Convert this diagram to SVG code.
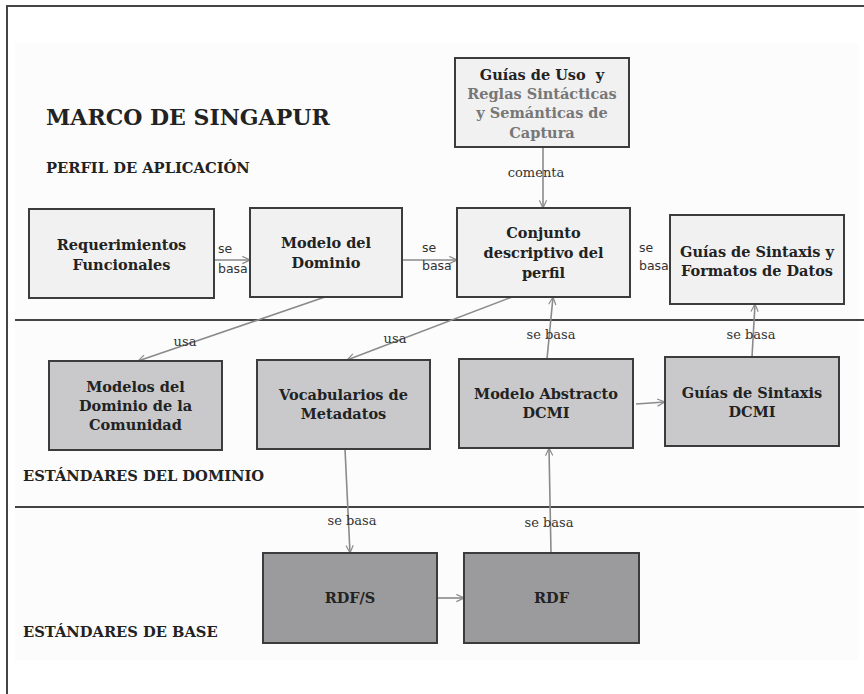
<svg xmlns="http://www.w3.org/2000/svg" width="864" height="694" viewBox="0 0 864 694">
<defs>
<style>
.n1{fill:#f1f1f1;stroke:#3c3c3c;stroke-width:2}
.n2{fill:#c9c9cb;stroke:#3c3c3c;stroke-width:2}
.n3{fill:#9b9b9d;stroke:#3c3c3c;stroke-width:2}
.t{font-family:"DejaVu Serif","Liberation Serif",serif;font-weight:bold;font-size:14.5px;fill:#222;text-anchor:middle}
.g{fill:#777}
.h{font-family:"DejaVu Serif","Liberation Serif",serif;font-weight:bold;fill:#222}
.lb{font-family:"DejaVu Serif","Liberation Serif",serif;font-size:13px;fill:#333;text-anchor:middle}
.ls{font-family:"DejaVu Sans","Liberation Sans",sans-serif;font-size:12.5px;fill:#333}
.c{stroke:#8a8a8a;stroke-width:1.6;fill:none;marker-end:url(#ah)}
.sep{stroke:#444;stroke-width:2.2}
</style>
<marker id="ah" viewBox="0 0 10 10" refX="9.5" refY="5" markerWidth="9" markerHeight="9" markerUnits="userSpaceOnUse" orient="auto">
<path d="M1,1 L9.5,5 L1,9" fill="none" stroke="#8a8a8a" stroke-width="1.3"/>
</marker>
</defs>
<rect x="0" y="0" width="864" height="694" fill="#ffffff"/>
<rect x="15" y="43" width="843" height="617" fill="#fcfcfc"/>
<path d="M7,694 L7,6 L864,6" fill="none" stroke="#444" stroke-width="2"/>
<line class="sep" x1="15" y1="320" x2="864" y2="320"/>
<line class="sep" x1="15" y1="507" x2="864" y2="507"/>

<g id="titles">
<text class="h" x="46" y="125" font-size="22">MARCO DE SINGAPUR</text>
<text class="h" x="46" y="173" font-size="14.7">PERFIL DE APLICACIÓN</text>
<text class="h" x="23" y="481" font-size="14.7">ESTÁNDARES DEL DOMINIO</text>
<text class="h" x="23" y="637" font-size="14.7">ESTÁNDARES DE BASE</text>
</g>

<g id="connectors">
<line class="c" x1="214" y1="260" x2="250" y2="260"/>
<line class="c" x1="402" y1="260" x2="457" y2="260"/>
<line class="c" x1="624" y1="260" x2="631" y2="260"/>
<line class="c" x1="543" y1="147" x2="543" y2="208"/>
<line class="c" x1="325" y1="297" x2="138" y2="361"/>
<line class="c" x1="512" y1="297" x2="347" y2="360"/>
<line class="c" x1="547" y1="359" x2="553" y2="297"/>
<line class="c" x1="752" y1="357" x2="755" y2="304"/>
<line class="c" x1="636" y1="404" x2="665" y2="402"/>
<line class="c" x1="345" y1="449" x2="350" y2="553"/>
<line class="c" x1="551" y1="553" x2="549" y2="448"/>
<line class="c" x1="437" y1="598" x2="464" y2="598"/>
<text class="ls" x="218" y="253">se</text>
<text class="ls" x="218" y="273">basa</text>
<text class="ls" x="422" y="252">se</text>
<text class="ls" x="422" y="270">basa</text>
<text class="ls" x="639" y="252">se</text>
<text class="ls" x="639" y="270">basa</text>
<text class="lb" x="536" y="177">comenta</text>
<text class="lb" x="185" y="346">usa</text>
<text class="lb" x="395" y="343">usa</text>
<text class="lb" x="551" y="339">se basa</text>
<text class="lb" x="751" y="339">se basa</text>
<text class="lb" x="352" y="525">se basa</text>
<text class="lb" x="549" y="527">se basa</text>
</g>

<g id="req">
<rect class="n1" x="29" y="209" width="185" height="89"/>
<text class="t" x="121.5" y="250">Requerimientos</text>
<text class="t" x="121.5" y="270">Funcionales</text>
</g>
<g id="modelo-dominio">
<rect class="n1" x="250" y="208" width="152" height="89"/>
<text class="t" x="326" y="248">Modelo del</text>
<text class="t" x="326" y="268">Dominio</text>
</g>
<g id="guias-uso">
<rect class="n1" x="455" y="58" width="174" height="89"/>
<text class="t" x="542" y="80">Guías de Uso&#160; y</text>
<text class="t g" x="542" y="99">Reglas Sintácticas</text>
<text class="t g" x="542" y="118">y Semánticas de</text>
<text class="t g" x="542" y="138">Captura</text>
</g>
<g id="conjunto">
<rect class="n1" x="457" y="208" width="173" height="89"/>
<text class="t" x="543.5" y="238">Conjunto</text>
<text class="t" x="543.5" y="258">descriptivo del</text>
<text class="t" x="543.5" y="278">perfil</text>
</g>
<g id="guias-formatos">
<rect class="n1" x="670" y="215" width="174" height="89"/>
<text class="t" x="757" y="257">Guías de Sintaxis y</text>
<text class="t" x="757" y="276">Formatos de Datos</text>
</g>
<g id="modelos-comunidad">
<rect class="n2" x="49" y="361" width="173" height="89"/>
<text class="t" x="135.5" y="392">Modelos del</text>
<text class="t" x="135.5" y="411">Dominio de la</text>
<text class="t" x="135.5" y="430">Comunidad</text>
</g>
<g id="vocabularios">
<rect class="n2" x="257" y="360" width="173" height="89"/>
<text class="t" x="343.5" y="400">Vocabularios de</text>
<text class="t" x="343.5" y="419">Metadatos</text>
</g>
<g id="modelo-abstracto">
<rect class="n2" x="459" y="359" width="174" height="89"/>
<text class="t" x="546" y="399">Modelo Abstracto</text>
<text class="t" x="546" y="418">DCMI</text>
</g>
<g id="guias-dcmi">
<rect class="n2" x="665" y="357" width="174" height="89"/>
<text class="t" x="752" y="398">Guías de Sintaxis</text>
<text class="t" x="752" y="417">DCMI</text>
</g>
<g id="rdfs">
<rect class="n3" x="263" y="553" width="174" height="90"/>
<text class="t" x="350" y="603">RDF/S</text>
</g>
<g id="rdf">
<rect class="n3" x="464" y="553" width="175" height="90"/>
<text class="t" x="551.5" y="603">RDF</text>
</g>
</svg>
